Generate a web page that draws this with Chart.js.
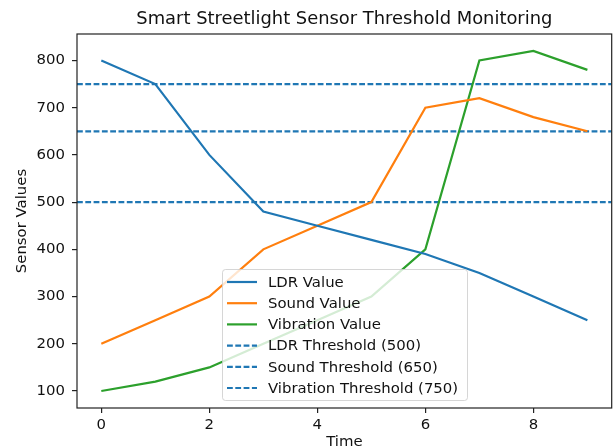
<!DOCTYPE html>
<html>
<head>
<meta charset="utf-8">
<script src="https://cdn.jsdelivr.net/npm/chart.js@4.4.1/dist/chart.umd.min.js"></script>
<style>
  html, body { margin: 0; padding: 0; background: #fff; }
  #wrap { width: 616px; height: 448px; }
</style>
</head>
<body>
<div id="wrap"><canvas id="c" width="616" height="448"></canvas></div>
<script>
const time = [0, 1, 2, 3, 4, 5, 6, 7, 8, 9];
const ldr = [800, 750, 600, 480, 450, 420, 390, 350, 300, 250];
const sound = [200, 250, 300, 400, 450, 500, 700, 720, 680, 650];
const vibration = [100, 120, 150, 200, 250, 300, 400, 800, 820, 780];
const thresholds = [500, 650, 750];
const thresholdNames = ["LDR Threshold (500)", "Sound Threshold (650)", "Vibration Threshold (750)"];
const xTicks = [0, 2, 4, 6, 8];
const yTicks = [100, 200, 300, 400, 500, 600, 700, 800];

const X_MIN = -0.45, X_MAX = 9.45;
const Y_MIN = 64, Y_MAX = 856;

const FONT = "DejaVu Sans";
const LW = 2.2;
const DASH = [5.8, 2.5];

const pts = (arr) => arr.map((v, i) => ({ x: time[i], y: v }));

const datasets = [
  { label: "LDR Value", data: pts(ldr), borderColor: "#1f77b4" },
  { label: "Sound Value", data: pts(sound), borderColor: "#ff7f0e" },
  { label: "Vibration Value", data: pts(vibration), borderColor: "#2ca02c" },
  ...thresholds.map((t, i) => ({
    label: thresholdNames[i],
    data: [{ x: X_MIN, y: t }, { x: X_MAX, y: t }],
    borderColor: "#1f77b4",
    borderDash: DASH,
  })),
].map((d) => ({ borderWidth: LW, pointRadius: 0, tension: 0, fill: false, ...d }));

const frame = {
  id: "frame",
  afterDraw(chart) {
    const { ctx, chartArea: a } = chart;
    ctx.save();
    // spines
    ctx.strokeStyle = "#222";
    ctx.lineWidth = 1.2;
    ctx.strokeRect(a.left, a.top, a.right - a.left, a.bottom - a.top);

    // title + axis labels
    ctx.fillStyle = "#111";
    ctx.textAlign = "center";
    ctx.textBaseline = "middle";
    ctx.font = `17.9px "${FONT}"`;
    ctx.fillText("Smart Streetlight Sensor Threshold Monitoring", (a.left + a.right) / 2, 19);
    ctx.font = `14.9px "${FONT}"`;
    ctx.fillText("Time", (a.left + a.right) / 2, 442);
    ctx.save();
    ctx.translate(22, (a.top + a.bottom) / 2);
    ctx.rotate(-Math.PI / 2);
    ctx.fillText("Sensor Values", 0, 0);
    ctx.restore();

    // legend
    const bx = 222, by = 269, bw = 245, bh = 131;
    ctx.fillStyle = "rgba(255,255,255,0.8)";
    ctx.strokeStyle = "rgba(204,204,204,0.8)";
    ctx.lineWidth = 1;
    ctx.beginPath();
    ctx.roundRect(bx + 0.5, by + 0.5, bw, bh, 3);
    ctx.fill();
    ctx.stroke();
    ctx.textAlign = "left";
    chart.data.datasets.forEach((d, i) => {
      const y = 282 + i * 21.2;
      ctx.strokeStyle = d.borderColor;
      ctx.lineWidth = LW;
      ctx.setLineDash(d.borderDash || []);
      ctx.beginPath();
      ctx.moveTo(227, y);
      ctx.lineTo(257, y);
      ctx.stroke();
      ctx.setLineDash([]);
      ctx.fillStyle = "#111";
      ctx.fillText(d.label, 268, y + 1);
    });
    ctx.restore();
  },
};

const tickFont = { family: FONT, size: 14.9 };

new Chart(document.getElementById("c"), {
  type: "line",
  data: { datasets },
  plugins: [frame],
  options: {
    responsive: false,
    animation: false,
    devicePixelRatio: 1,
    layout: { padding: { top: 34, right: 4.3, left: 0, bottom: 0 } },
    plugins: { legend: { display: false }, title: { display: false }, tooltip: { enabled: false } },
    scales: {
      x: {
        type: "linear",
        min: X_MIN,
        max: X_MAX,
        afterBuildTicks: (s) => { s.ticks = xTicks.map((v) => ({ value: v })); },
        afterFit: (s) => { s.height = 40; },
        ticks: { font: tickFont, color: "#111", padding: 3, maxRotation: 0, callback: (v) => v },
        grid: { drawOnChartArea: false, tickLength: 5, color: "#222", lineWidth: 1.2 },
        border: { display: false },
      },
      y: {
        type: "linear",
        min: Y_MIN,
        max: Y_MAX,
        afterBuildTicks: (s) => { s.ticks = yTicks.map((v) => ({ value: v })); },
        afterFit: (s) => { s.width = 77; },
        ticks: { font: tickFont, color: "#111", padding: 7, callback: (v) => v },
        grid: { drawOnChartArea: false, tickLength: 5, color: "#222", lineWidth: 1.2 },
        border: { display: false },
      },
    },
  },
});
</script>
</body>
</html>
